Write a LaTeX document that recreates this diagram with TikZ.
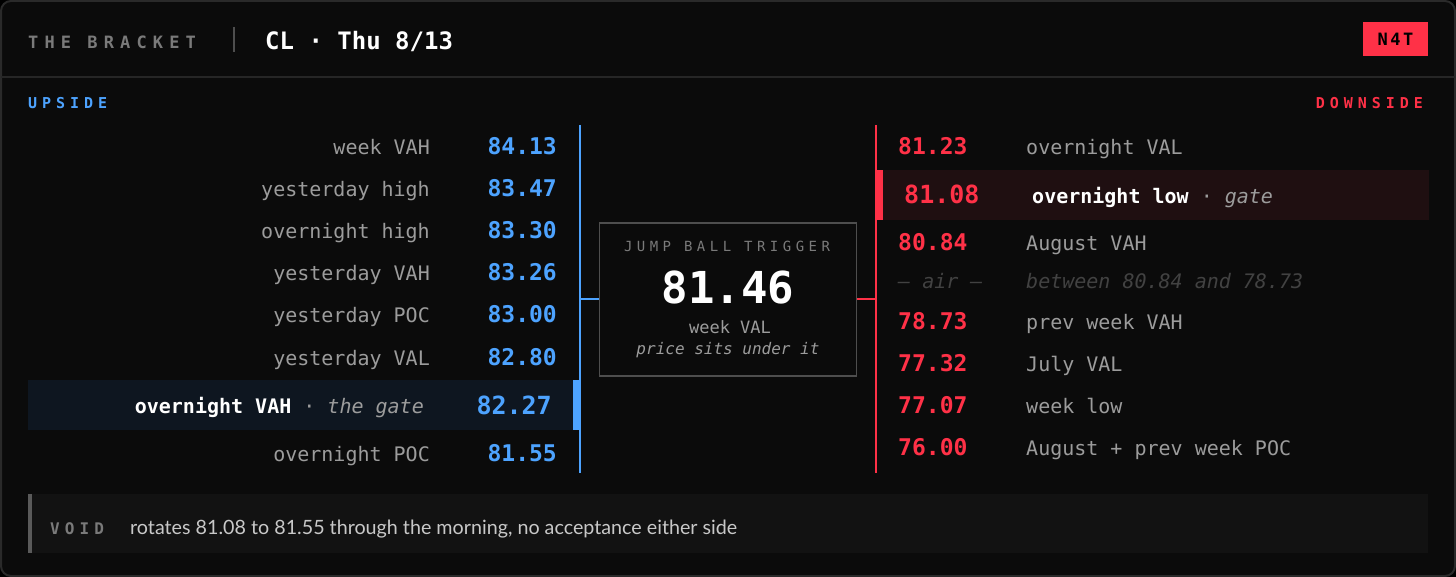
\documentclass[tikz,border=0pt]{standalone}
\usepackage{fontspec}
\setmainfont{Lato}
\setmonofont{DejaVu Sans Mono}
\newfontfamily\trackmono[LetterSpace=33]{DejaVu Sans Mono}
\newfontfamily\tightmono[LetterSpace=32]{DejaVu Sans Mono}

\definecolor{bgdark}{HTML}{0B0B0B}
\definecolor{framegray}{HTML}{2A2A2A}
\definecolor{rulegray}{HTML}{262626}
\definecolor{headgray}{HTML}{7A7A7A}
\definecolor{labelgray}{HTML}{9C9C9C}
\definecolor{airgray}{HTML}{424242}
\definecolor{boxgray}{HTML}{4E4E4E}
\definecolor{upblue}{HTML}{4DA3FF}
\definecolor{dnred}{HTML}{FF3147}
\definecolor{upshade}{HTML}{0E1620}
\definecolor{dnshade}{HTML}{1F0F11}
\definecolor{voidfill}{HTML}{121212}
\definecolor{voidbar}{HTML}{5A5A5A}
\definecolor{voidtext}{HTML}{C8C8C8}

\tikzset{
  every node/.style={inner sep=0pt},
  uplbl/.style={anchor=base east, text=labelgray, font=\ttfamily\fontsize{20}{24}\selectfont},
  upval/.style={anchor=base east, text=upblue, font=\ttfamily\bfseries\fontsize{23}{28}\selectfont},
  dnval/.style={anchor=base west, text=dnred, font=\ttfamily\bfseries\fontsize{23}{28}\selectfont},
  dnlbl/.style={anchor=base west, text=labelgray, font=\ttfamily\fontsize{20}{24}\selectfont},
  caps/.style={anchor=base west, font=\trackmono\bfseries\fontsize{15}{17}\selectfont},
}

\begin{document}
\begin{tikzpicture}[x=1pt, y=-1pt]
        \useasboundingbox (0,0) rectangle (1456,577);
        \fill[black] (0,0) rectangle (1456,577);
        \draw[framegray, line width=2pt, fill=bgdark, rounded corners=10pt] (1,1) rectangle (1455,576);

        % header
        \draw[rulegray, line width=1.5pt] (1,77) -- (1455,77);
        \node[caps, text=headgray, font=\trackmono\bfseries\fontsize{17}{19}\selectfont\addfontfeature{LetterSpace=36}] (brand) at (28,49) {THE BRACKET};
        \draw[boxgray, line width=2pt] (234,27) -- (234,52);
        \node[anchor=base west, text=white, font=\ttfamily\bfseries\fontsize{24}{28}\selectfont] (title) at (265,50) {CL · Thu 8/13};
        \node[fill=dnred, minimum width=65pt, minimum height=34pt, text=black, font=\tightmono\bfseries\fontsize{17}{19}\selectfont\addfontfeature{LetterSpace=15}] (badge) at (1395.5,39) {N4T};

        \node[caps, text=upblue] (up) at (28,109) {UPSIDE};
        \node[caps, anchor=base east, text=dnred] (down) at (1423,109) {DOWNSIDE};

        % highlighted rows
        \fill[upshade] (28,380) rectangle (574,430);
        \fill[upblue] (573,380) rectangle (580,430);
        \fill[dnshade] (876,170) rectangle (1429,220);
        \fill[dnred] (876,170) rectangle (883,220);

        % upside column
        \coordinate (utop) at (580,125);
        \coordinate (ubot) at (580,473);
        \draw[upblue, line width=1.5pt] (utop) -- (ubot);
        \node[uplbl] (u1) at (430,155) {week VAH};
        \node[upval] (v1) at (557,155) {84.13};
        \node[uplbl] (u2) at (430,197) {yesterday high};
        \node[upval] (v2) at (557,197) {83.47};
        \node[uplbl] (u3) at (430,239) {overnight high};
        \node[upval] (v3) at (557,239) {83.30};
        \node[uplbl] (u4) at (430,281) {yesterday VAH};
        \node[upval] (v4) at (557,281) {83.26};
        \node[uplbl] (u5) at (430,323) {yesterday POC};
        \node[upval] (v5) at (557,323) {83.00};
        \node[uplbl] (u6) at (430,365) {yesterday VAL};
        \node[upval] (v6) at (557,365) {82.80};
        \node[uplbl] (u7) at (424,413) {{\color{white}\bfseries overnight VAH} · \itshape the gate};
        \node[upval, font=\ttfamily\bfseries\fontsize{25}{30}\selectfont] (v7) at (552,414) {82.27};
        \node[uplbl] (u8) at (430,461) {overnight POC};
        \node[upval] (v8) at (557,461) {81.55};

        % trigger box
        \node[draw=boxgray, line width=1.5pt, fill=bgdark, minimum width=257pt, minimum height=153pt] (trig) at (728,299.5) {};
        \node[anchor=base, text=headgray, font=\tightmono\fontsize{14}{16}\selectfont] (tname) at (727,252) {JUMP BALL TRIGGER};
        \node[anchor=base, text=white, font=\ttfamily\bfseries\fontsize{44}{48}\selectfont] (tval) at (728,303) {81.46};
        \node[anchor=base, text=labelgray, font=\ttfamily\fontsize{17}{20}\selectfont] (tsub) at (730,334) {week VAL};
        \node[anchor=base, text=labelgray, font=\ttfamily\itshape\fontsize{16}{19}\selectfont] (tnote) at (728,354) {price sits under it};

        % downside column
        \coordinate (dtop) at (876,125);
        \coordinate (dbot) at (876,473);
        \draw[dnred, line width=1.5pt] (dtop) -- (dbot);
        \draw[upblue, line width=2pt] (trig.west) -- (trig.west -| utop);
        \draw[dnred, line width=2pt] (trig.east) -- (trig.east -| dtop);
        \node[dnval] (w1) at (898,155) {81.23};
        \node[dnlbl] (d1) at (1026,155) {overnight VAL};
        \node[dnval, font=\ttfamily\bfseries\fontsize{25}{30}\selectfont] (w2) at (904,204) {81.08};
        \node[dnlbl] (d2) at (1032,204) {{\color{white}\bfseries overnight low} · \itshape gate};
        \node[dnval] (w3) at (898,251) {80.84};
        \node[dnlbl] (d3) at (1026,251) {August VAH};
        \node[dnlbl, text=airgray, font=\ttfamily\itshape\fontsize{20}{24}\selectfont] (air) at (898,289) {— air —};
        \node[dnlbl, text=airgray, font=\ttfamily\itshape\fontsize{20}{24}\selectfont] (d4) at (1026,289) {between 80.84 and 78.73};
        \node[dnval] (w5) at (898,330) {78.73};
        \node[dnlbl] (d5) at (1026,330) {prev week VAH};
        \node[dnval] (w6) at (898,371) {77.32};
        \node[dnlbl] (d6) at (1026,371) {July VAL};
        \node[dnval] (w7) at (898,413) {77.07};
        \node[dnlbl] (d7) at (1026,413) {week low};
        \node[dnval] (w8) at (898,455) {76.00};
        \node[dnlbl] (d8) at (1026,455) {August + prev week POC};

        % void note
        \fill[voidfill] (28,494) rectangle (1428,553);
        \fill[voidbar] (28,494) rectangle (32,553);
        \node[caps, text=headgray, font=\tightmono\bfseries\fontsize{16}{18}\selectfont] (void) at (50,534) {VOID};
        \node[anchor=base west, text=voidtext, font=\fontsize{19.7}{23}\selectfont] (vnote) at (130,534) {rotates 81.08 to 81.55 through the morning, no acceptance either side};
\end{tikzpicture}
\end{document}
